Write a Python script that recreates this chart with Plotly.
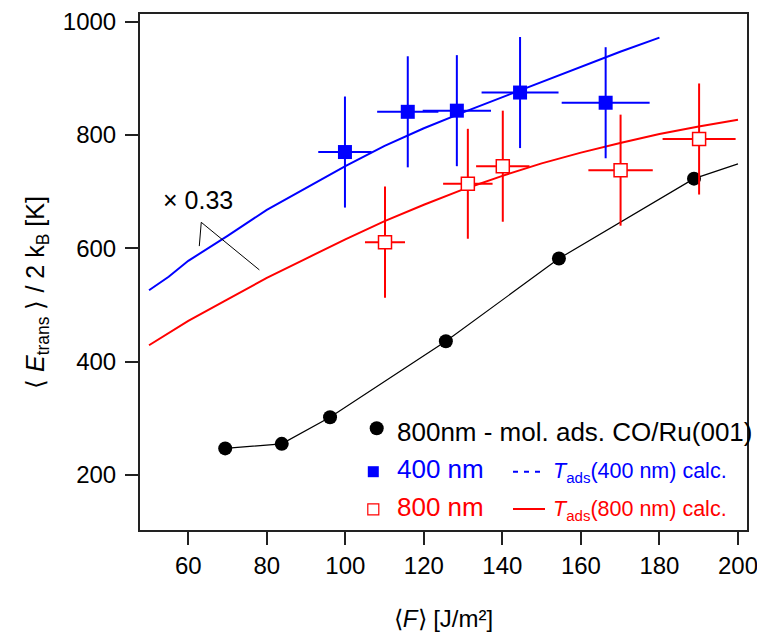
import plotly.graph_objects as go

# ---------------- data ----------------
# black: 800nm - mol. ads. CO/Ru(001)
black_x = [69.4, 83.8, 96.1, 125.6, 154.4, 188.8]
black_y = [247, 255, 302, 436, 582, 723]
black_line_x = [69.4, 83.8, 96.1, 125.6, 154.4, 188.8, 200]
black_line_y = [247, 255, 302, 436, 582, 723, 749]

# blue: 400 nm
blue_x = [99.9, 115.9, 128.4, 144.5, 166.3]
blue_y = [770, 841, 843, 875, 857]
blue_xerr = [6.8, 7.8, 8.7, 9.8, 11.2]
blue_yerr = [98, 98, 98, 98, 98]

# red: 800 nm
red_x = [110.1, 131.2, 140.1, 170.1, 190.1]
red_y = [611, 714, 745, 738, 793]
red_xerr = [5.1, 6.3, 6.8, 8.2, 9.3]
red_yerr = [98, 97, 98, 98, 98]

# calculated curves
blue_calc_x = [50, 55, 60, 70, 80, 90, 100, 110, 120, 130, 140, 150, 160, 170, 180]
blue_calc_y = [526, 550, 578, 622, 668, 706, 745, 781, 812, 840, 867, 894, 921, 947, 972]
red_calc_x = [50, 60, 70, 80, 90, 100, 110, 120, 130, 140, 150, 160, 170, 180, 190, 200]
red_calc_y = [429, 472, 510, 548, 582, 616, 648, 677, 704, 728, 750, 769, 786, 802, 815, 827]

x_ticks = [60, 80, 100, 120, 140, 160, 180, 200]
y_ticks = [200, 400, 600, 800, 1000]

BLUE = "#0000ff"
RED = "#ff0000"
FONT = "Liberation Sans, Arial, sans-serif"

# page offset of the plotly div (default body margin)
OFF = 8
W, H = 765 - OFF, 632 - OFF
# plot area in page pixels: x 140..747, y 14..530
ML, MR, MT, MB = 140 - OFF, 18, 14 - OFF, 102
PW, PH = W - ML - MR, H - MT - MB


def px(xp):
    # page pixel -> paper x
    return (xp - 140) / PW


def py(yp):
    # page pixel -> paper y
    return (530 - yp) / PH


fig = go.Figure()

fig.add_trace(go.Scatter(x=red_calc_x, y=red_calc_y, mode="lines",
                         line=dict(color=RED, width=2), hoverinfo="skip"))
fig.add_trace(go.Scatter(x=blue_calc_x, y=blue_calc_y, mode="lines",
                         line=dict(color=BLUE, width=2), hoverinfo="skip"))
fig.add_trace(go.Scatter(x=black_line_x, y=black_line_y, mode="lines",
                         line=dict(color="black", width=1.2), hoverinfo="skip"))
fig.add_trace(go.Scatter(x=black_x, y=black_y, mode="markers",
                         marker=dict(color="black", size=14, symbol="circle")))
fig.add_trace(go.Scatter(
    x=blue_x, y=blue_y, mode="markers",
    marker=dict(color=BLUE, size=14, symbol="square", line=dict(width=0)),
    error_x=dict(type="data", array=blue_xerr, color=BLUE, thickness=2, width=0),
    error_y=dict(type="data", array=blue_yerr, color=BLUE, thickness=2, width=0)))
fig.add_trace(go.Scatter(
    x=red_x, y=red_y, mode="markers",
    marker=dict(color="white", size=13, symbol="square", line=dict(color=RED, width=1.5)),
    error_x=dict(type="data", array=red_xerr, color=RED, thickness=2, width=0),
    error_y=dict(type="data", array=red_yerr, color=RED, thickness=2, width=0)))

shapes = []
annotations = []

# "x 0.33" callout
shapes.append(dict(type="path", xref="x", yref="y",
                   path="M 62.8,604 L 63.3,646 L 78.1,562",
                   line=dict(color="black", width=1)))
annotations.append(dict(x=px(161), y=py(200), xref="paper", yref="paper", text="× 0.33",
                        showarrow=False, xanchor="left", yanchor="middle",
                        font=dict(size=25, color="black", family=FONT)))

# manual legend
shapes.append(dict(type="circle", xref="paper", yref="paper",
                   x0=px(369.7), x1=px(383.7), y0=py(435.3), y1=py(421.3),
                   fillcolor="black", line=dict(color="black", width=0)))
shapes.append(dict(type="rect", xref="paper", yref="paper",
                   x0=px(367.8), x1=px(378.8), y0=py(477.2), y1=py(466.2),
                   fillcolor=BLUE, line=dict(color=BLUE, width=0)))
shapes.append(dict(type="rect", xref="paper", yref="paper",
                   x0=px(367.8), x1=px(378.8), y0=py(514.8), y1=py(503.8),
                   fillcolor="white", line=dict(color=RED, width=1.2)))
shapes.append(dict(type="line", xref="paper", yref="paper",
                   x0=px(513), x1=px(541), y0=py(471.7), y1=py(471.7),
                   line=dict(color=BLUE, width=2, dash="5px,6px")))
shapes.append(dict(type="line", xref="paper", yref="paper",
                   x0=px(513), x1=px(545), y0=py(509), y1=py(509),
                   line=dict(color=RED, width=2)))

legend_font = dict(size=26, family=FONT)
annotations.append(dict(x=px(395), y=py(432), xref="paper", yref="paper",
                        text="800nm - mol. ads. CO/Ru(001)", showarrow=False,
                        xanchor="left", yanchor="middle",
                        font=dict(color="black", **legend_font)))
annotations.append(dict(x=px(395), y=py(469), xref="paper", yref="paper",
                        text="400 nm", showarrow=False,
                        xanchor="left", yanchor="middle",
                        font=dict(color=BLUE, **legend_font)))
annotations.append(dict(x=px(395), y=py(507), xref="paper", yref="paper",
                        text="800 nm", showarrow=False,
                        xanchor="left", yanchor="middle",
                        font=dict(color=RED, **legend_font)))
annotations.append(dict(x=px(551), y=py(472), xref="paper", yref="paper",
                        text="<i>T</i><sub>ads</sub>(400 nm) calc.", showarrow=False,
                        xanchor="left", yanchor="middle",
                        font=dict(color=BLUE, size=21.5, family=FONT)))
annotations.append(dict(x=px(551), y=py(510), xref="paper", yref="paper",
                        text="<i>T</i><sub>ads</sub>(800 nm) calc.", showarrow=False,
                        xanchor="left", yanchor="middle",
                        font=dict(color=RED, size=21.5, family=FONT)))

# y axis title as rotated annotation
annotations.append(dict(x=px(37), y=py(292), xref="paper", yref="paper",
                        text="⟨ <i>E</i><sub>trans</sub> ⟩ / 2 k<sub>B</sub> [K]",
                        textangle=-90, showarrow=False,
                        xanchor="center", yanchor="middle",
                        font=dict(size=25, color="black", family=FONT)))

axis_common = dict(showline=True, mirror=True, linecolor="#222", linewidth=2,
                   ticks="outside", ticklen=13, tickwidth=1.5, tickcolor="#222",
                   showgrid=False, zeroline=False, automargin=False,
                   tickfont=dict(size=24, color="black", family=FONT))

fig.update_layout(
    width=W, height=H,
    margin=dict(l=ML, r=MR, t=MT, b=MB),
    paper_bgcolor="white", plot_bgcolor="white",
    showlegend=False,
    shapes=shapes, annotations=annotations,
    xaxis=dict(range=[47.7, 202.3], tickvals=x_ticks,
               title=dict(text="⟨<i>F</i>⟩ [J/m²]", standoff=34,
                          font=dict(size=24, color="black", family=FONT)),
               **axis_common),
    yaxis=dict(range=[103, 1013.6], tickvals=y_ticks, ticklabelstandoff=4,
               **axis_common),
)

fig.write_html("out.html")
